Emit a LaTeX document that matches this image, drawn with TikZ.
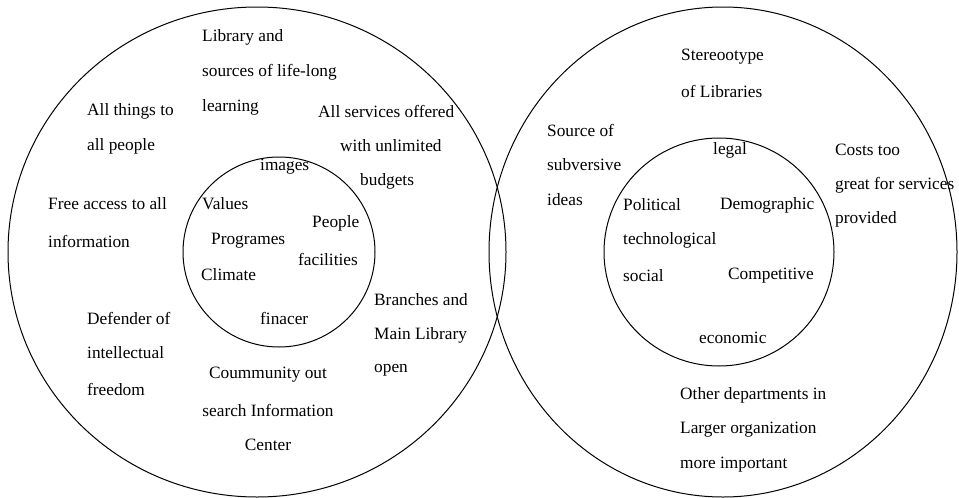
\documentclass[tikz,border=0pt]{standalone}
\usepackage{fontspec}
\setmainfont{Liberation Serif}
\begin{document}
\begin{tikzpicture}[x=1pt,y=-1pt,
  ring/.style={draw=black,line width=1pt},
  lbl/.style={anchor=west,inner sep=0pt,font=\fontsize{17.3}{20}\selectfont},
  clbl/.style={anchor=center,inner sep=0pt,font=\fontsize{17.3}{20}\selectfont}]
\useasboundingbox (0,0) rectangle (959,498);
% circles
\draw[ring] (257,252) ellipse [x radius=249, y radius=245];
\draw[ring] (279,252) ellipse [x radius=96, y radius=95];
\draw[ring] (723,252) ellipse [x radius=234, y radius=245];
\draw[ring] (719,252) ellipse [x radius=115, y radius=114];
% left outer texts
\node[lbl] (l1) at (202,37) {Library and};
\node[lbl] (l2) at (202,72) {sources of life-long};
\node[lbl] (l3) at (202,107) {learning};
\node[lbl] (a1) at (87,111) {All things to};
\node[lbl] (a2) at (87,146) {all people};
\node[lbl] (s1) at (318,111) {All services offered};
\node[lbl] (s2) at (340,146) {with unlimited};
\node[lbl] (s3) at (360,181) {budgets};
\node[lbl] (f1) at (48,204) {Free access to all};
\node[lbl] (f2) at (48,241) {information};
\node[lbl] (b1) at (374,300) {Branches and};
\node[lbl] (b2) at (374,335) {Main Library};
\node[lbl] (b3) at (374,370) {open};
\node[lbl] (d1) at (87,318) {Defender of};
\node[lbl] (d2) at (87,353) {intellectual};
\node[lbl] (d3) at (87,389) {freedom};
\node[clbl] (c1) at (268,375) {Coummunity out};
\node[clbl] (c2) at (268,410) {search Information};
\node[clbl] (c3) at (268,445) {Center};
% left inner texts
\node[lbl] (i1) at (260,167) {images};
\node[lbl] (i2) at (202,204) {Values};
\node[lbl] (i3) at (312,223) {People};
\node[lbl] (i4) at (211,241) {Programes};
\node[lbl] (i5) at (298,259) {facilities};
\node[lbl] (i6) at (201,275) {Climate};
\node[lbl] (i7) at (260,318) {finacer};
% right outer texts
\node[lbl] (r1) at (681,57) {Stereootype};
\node[lbl] (r2) at (681,91) {of Libraries};
\node[lbl] (r3) at (547,130) {Source of};
\node[lbl] (r4) at (547,165) {subversive};
\node[lbl] (r5) at (547,200) {ideas};
\node[lbl] (r6) at (835,150) {Costs too};
\node[lbl] (r7) at (835,185) {great for services};
\node[lbl] (r8) at (835,219) {provided};
\node[lbl] (r9) at (680,395) {Other departments in};
\node[lbl] (r10) at (680,430) {Larger organization};
\node[lbl] (r11) at (680,465) {more important};
% right inner texts
\node[lbl] (j1) at (713,150) {legal};
\node[lbl] (j2) at (623,205) {Political};
\node[lbl] (j3) at (720,205) {Demographic};
\node[lbl] (j4) at (623,240) {technological};
\node[lbl] (j5) at (623,276) {social};
\node[lbl] (j6) at (728,276) {Competitive};
\node[lbl] (j7) at (699,338) {economic};
\end{tikzpicture}
\end{document}
